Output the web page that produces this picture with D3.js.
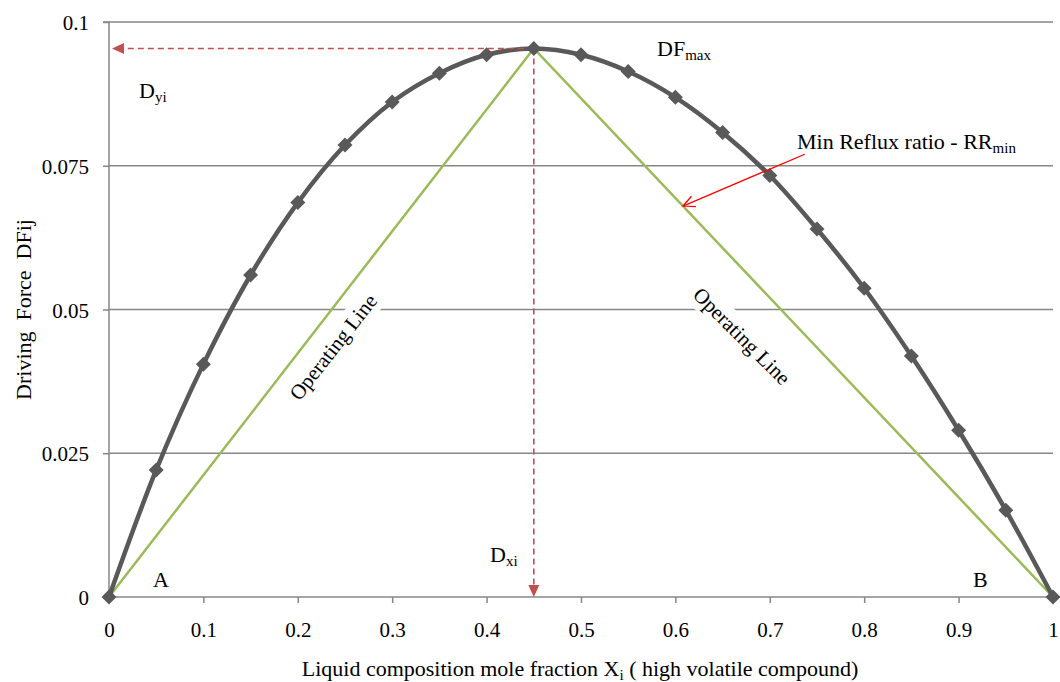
<!DOCTYPE html>
<html>
<head>
<meta charset="utf-8">
<script src="https://cdn.jsdelivr.net/npm/d3@7"></script>
<style>
  html, body { margin: 0; padding: 0; background: #fff; }
  svg { display: block; font-family: "Liberation Serif", "Times New Roman", serif; }
  text { white-space: pre; }
</style>
</head>
<body>
<svg id="chart" width="1060" height="682"></svg>
<script>
// Liquid composition (mole fraction of the high volatile compound)
const xValues = [0, 0.05, 0.1, 0.15, 0.2, 0.25, 0.3, 0.35, 0.4, 0.45, 0.5,
                 0.55, 0.6, 0.65, 0.7, 0.75, 0.8, 0.85, 0.9, 0.95, 1];
// Driving force DFij at each composition
const drivingForce = [0, 0.0221, 0.0405, 0.0560, 0.0686, 0.0786, 0.0861, 0.0911, 0.0943, 0.0954, 0.0943,
                      0.0914, 0.0869, 0.0808, 0.0733, 0.0640, 0.0537, 0.0419, 0.0290, 0.0151, 0];
// Operating lines: A -> DFmax -> B
const operatingX = [0, 0.45, 1];
const operatingY = [0, 0.0954, 0];
// Axis ticks
const xTicks = [0, 0.1, 0.2, 0.3, 0.4, 0.5, 0.6, 0.7, 0.8, 0.9, 1];
const xTickLabels = ["0", "0.1", "0.2", "0.3", "0.4", "0.5", "0.6", "0.7", "0.8", "0.9", "1"];
const yTicks = [0, 0.025, 0.05, 0.075, 0.1];
const yTickLabels = ["0", "0.025", "0.05", "0.075", "0.1"];
// Minimum reflux annotation: arrow from label towards the operating line
const rrArrowFrom = [0.737, 0.077];
const rrArrowToX = 0.608;

(function () {
const svg = d3.select("#chart");
const pLeft = 109, pRight = 1053, pTop = 22, pBottom = 597;
const x = d3.scaleLinear().domain([0, 1]).range([pLeft, pRight]);
const y = d3.scaleLinear().domain([0, 0.1]).range([pBottom, pTop]);

const gridColor = "#878787";
const tickFont = 21, textFont = 22, subFont = 15;

// gridlines
svg.append("g").selectAll("line").data(yTicks.filter(d => d > 0)).join("line")
  .attr("x1", pLeft).attr("x2", pRight)
  .attr("y1", d => y(d)).attr("y2", d => y(d))
  .attr("stroke", gridColor).attr("stroke-width", 1.5);

// y axis
const yAxis = d3.axisLeft(y).tickValues(yTicks).tickSize(6).tickFormat((d, i) => yTickLabels[i]);
const gy = svg.append("g").attr("transform", `translate(${pLeft},0)`).call(yAxis);
gy.select(".domain").attr("stroke", gridColor).attr("stroke-width", 1.5).attr("d", `M-6,${pTop}H0V${pBottom}`);
gy.selectAll(".tick line").attr("stroke", gridColor).attr("stroke-width", 1.5);
gy.selectAll(".tick text").attr("x", -20).attr("dy", "0.36em")
  .attr("font-family", "Liberation Serif").attr("font-size", tickFont).attr("fill", "#000");

// x axis
const xAxis = d3.axisBottom(x).tickValues(xTicks).tickSize(6).tickFormat((d, i) => xTickLabels[i]);
const gx = svg.append("g").attr("transform", `translate(0,${pBottom})`).call(xAxis);
gx.select(".domain").attr("stroke", gridColor).attr("stroke-width", 1.5).attr("d", `M${pLeft},0H${pRight}`);
gx.selectAll(".tick line").attr("stroke", gridColor).attr("stroke-width", 1.5);
gx.selectAll(".tick text").attr("y", 40).attr("dy", 0)
  .attr("font-family", "Liberation Serif").attr("font-size", tickFont).attr("fill", "#000");

// "Operating Line" labels on white boxes (mask the gridline underneath)
function boxedLabel(cx, cy, angle, txt) {
  const g = svg.append("g").attr("transform", `translate(${cx},${cy}) rotate(${angle})`);
  const rect = g.append("rect").attr("fill", "#fff");
  const t = g.append("text").attr("text-anchor", "middle").attr("dy", "0.35em")
    .attr("font-size", 21).attr("fill", "#000").text(txt);
  const bb = t.node().getBBox();
  rect.attr("x", bb.x - 3).attr("y", bb.y - 2).attr("width", bb.width + 6).attr("height", bb.height + 4);
}
boxedLabel(333, 347, -52, "Operating Line");
boxedLabel(742, 336, 45, "Operating Line");

// operating lines
const opData = operatingX.map((d, i) => [d, operatingY[i]]);
svg.append("path").datum(opData)
  .attr("d", d3.line().x(d => x(d[0])).y(d => y(d[1])))
  .attr("fill", "none").attr("stroke", "#9bbb59").attr("stroke-width", 2.5);

// driving force curve
const dfData = xValues.map((d, i) => [d, drivingForce[i]]);
svg.append("path").datum(dfData)
  .attr("d", d3.line().x(d => x(d[0])).y(d => y(d[1])).curve(d3.curveCatmullRom.alpha(0.5)))
  .attr("fill", "none").attr("stroke", "#595959").attr("stroke-width", 4.5);

// dashed arrows from DFmax to both axes
const peakIdx = d3.maxIndex(drivingForce);
const px = x(xValues[peakIdx]), py = y(drivingForce[peakIdx]);
const red = "#c0504d";
svg.append("line").attr("x1", px).attr("y1", py).attr("x2", pLeft + 14).attr("y2", py)
  .attr("stroke", red).attr("stroke-width", 1.6).attr("stroke-dasharray", "6,4");
svg.append("path").attr("d", `M${pLeft + 3},${py}L${pLeft + 15},${py - 5.5}L${pLeft + 15},${py + 5.5}Z`).attr("fill", red);
svg.append("line").attr("x1", px).attr("y1", py).attr("x2", px).attr("y2", pBottom - 12)
  .attr("stroke", red).attr("stroke-width", 1.6).attr("stroke-dasharray", "6,4");
svg.append("path").attr("d", `M${px},${pBottom}L${px - 5.5},${pBottom - 12}L${px + 5.5},${pBottom - 12}Z`).attr("fill", red);

// diamond markers
svg.append("g").selectAll("path").data(dfData).join("path")
  .attr("transform", d => `translate(${x(d[0])},${y(d[1])})`)
  .attr("d", "M0,-7.5L7.5,0L0,7.5L-7.5,0Z")
  .attr("fill", "#595959");

// minimum reflux arrow
const opInterp = d3.scaleLinear().domain(operatingX.slice(1)).range(operatingY.slice(1));
const ax1 = x(rrArrowFrom[0]), ay1 = y(rrArrowFrom[1]);
const ax2 = x(rrArrowToX), ay2 = y(opInterp(rrArrowToX));
svg.append("line").attr("x1", ax1).attr("y1", ay1).attr("x2", ax2).attr("y2", ay2)
  .attr("stroke", "#ff0000").attr("stroke-width", 1.3);
const ang = Math.atan2(ay1 - ay2, ax1 - ax2), hl = 13, ha = 0.45;
svg.append("path")
  .attr("d", `M${ax2 + hl * Math.cos(ang - ha)},${ay2 + hl * Math.sin(ang - ha)}L${ax2},${ay2}L${ax2 + hl * Math.cos(ang + ha)},${ay2 + hl * Math.sin(ang + ha)}`)
  .attr("fill", "none").attr("stroke", "#ff0000").attr("stroke-width", 1.3);

// text annotations
function subLabel(tx, ty, main, sub) {
  const t = svg.append("text").attr("x", tx).attr("y", ty).attr("font-size", textFont).attr("fill", "#000");
  t.append("tspan").text(main);
  t.append("tspan").attr("font-size", subFont).attr("dy", 4).text(sub);
  return t;
}
subLabel(139, 98, "D", "yi");
subLabel(657, 56, "DF", "max");
subLabel(490, 562, "D", "xi");
subLabel(797, 149, "Min Reflux ratio - RR", "min");
svg.append("text").attr("x", 153).attr("y", 587).attr("font-size", textFont).text("A");
svg.append("text").attr("x", 973).attr("y", 587).attr("font-size", textFont).text("B");

// axis titles
const xt = svg.append("text").attr("x", 580).attr("y", 676).attr("text-anchor", "middle").attr("font-size", textFont);
xt.append("tspan").text("Liquid composition mole fraction X");
xt.append("tspan").attr("font-size", subFont).attr("dy", 4).text("i");
xt.append("tspan").attr("dy", -4).text(" ( high volatile compound)");

svg.append("text").attr("transform", `translate(31,${(pTop + pBottom) / 2}) rotate(-90)`)
  .attr("text-anchor", "middle").attr("font-size", textFont).text("Driving  Force  DFij");
})();
</script>
</body>
</html>
